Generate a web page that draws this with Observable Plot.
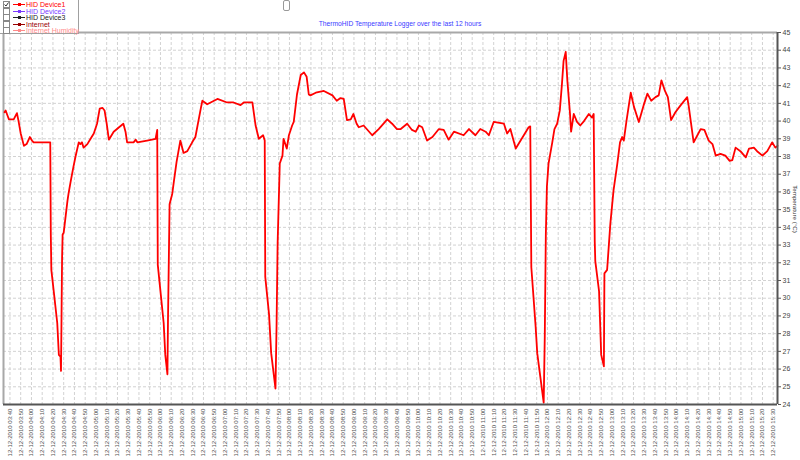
<!DOCTYPE html>
<html>
<head>
<meta charset="utf-8">
<script src="https://cdn.jsdelivr.net/npm/d3@7"></script>
<script src="https://cdn.jsdelivr.net/npm/@observablehq/plot@0.6"></script>
<style>
  html, body { margin: 0; padding: 0; background: #fff; }
  #wrap { position: relative; width: 800px; height: 460px; font-family: "Liberation Sans", Arial, sans-serif; }
  #title { position: absolute; left: 0; width: 800px; top: 20px; text-align: center; font-size: 6.7px; color: #3a3aff; }
  #legend { position: absolute; left: 0; top: 0; width: 78px; height: 33px; border: 1px solid #a0a0a0; border-top: none; border-left: none; background: #fff; font-size: 7px; }
  .row { position: absolute; left: 0; height: 7px; line-height: 7px; white-space: nowrap; }
  .cb { position: absolute; left: 3px; top: 0; width: 5px; height: 5px; border: 1px solid #888; background: #fff; }
  .ln { position: absolute; left: 13px; top: 3px; width: 12px; height: 1px; }
  .dt { position: absolute; left: 18px; top: 2px; width: 3px; height: 3px; }
  .lb { position: absolute; left: 26px; top: 0; }
  #handle { position: absolute; left: 283px; top: 0px; width: 5px; height: 9px; border: 1px solid #999; border-radius: 2px; background: #fff; }
  #ylabel { position: absolute; font-size: 6.2px; line-height: 8px; height: 8px; color: #333; transform: rotate(90deg); transform-origin: center; text-align: center; white-space: nowrap; }
  svg { position: absolute; left: 0; top: 0; }
</style>
</head>
<body>
<div id="wrap"></div>
<script>
// ---- data (times on 12-12-2010, temperature of HID Device1 in °C) ----
const times = [
  "03:35:00","03:36:00","03:39:00","03:43:30","03:46:30","03:48:00","03:50:00","03:53:00","03:55:30","03:58:30",
  "04:00:30","04:02:00","04:17:30","04:18:00","04:18:30","04:21:00","04:24:00","04:25:30","04:27:00","04:27:30",
  "04:28:00","04:28:30","04:29:00","04:30:00","04:33:30","04:34:30","04:36:30","04:39:00","04:41:00","04:44:00",
  "04:45:30","04:47:00","04:48:30","04:52:00","04:55:00","04:58:00","05:01:00","05:03:30","05:06:00","05:08:00",
  "05:10:00","05:12:00","05:16:30","05:21:30","05:25:30","05:27:30","05:29:00","05:35:00","05:37:00","05:38:30",
  "05:47:30","05:55:30","05:57:00","05:57:30","06:00:00","06:03:00","06:04:30","06:06:30","06:07:00","06:08:00",
  "06:08:30","06:11:00","06:12:30","06:15:00","06:18:30","06:21:30","06:25:00","06:29:30","06:32:30","06:37:30",
  "06:39:00","06:43:30","06:53:00","07:02:00","07:08:00","07:14:30","07:17:30","07:25:30","07:28:30","07:31:30",
  "07:35:30","07:37:00","07:37:30","07:41:00","07:43:00","07:47:00","07:48:00","07:49:00","07:51:00","07:53:30",
  "07:54:30","07:57:30","07:59:30","08:02:30","08:04:00","08:07:00","08:10:30","08:13:30","08:16:00","08:18:00",
  "08:19:30","08:24:30","08:32:00","08:40:00","08:44:00","08:47:30","08:50:30","08:53:30","08:57:00","08:59:30",
  "09:02:30","09:04:30","09:09:00","09:17:00","09:23:00","09:31:00","09:35:30","09:40:00","09:43:30","09:49:30",
  "09:54:00","09:57:30","10:00:30","10:03:30","10:08:00","10:13:00","10:19:00","10:23:30","10:28:00","10:33:00",
  "10:42:00","10:47:00","10:53:00","10:57:30","11:02:30","11:05:30","11:10:00","11:19:30","11:22:30","11:25:30",
  "11:30:30","11:38:00","11:42:30","11:44:00","11:45:00","11:49:00","11:50:30","11:56:30","11:57:30","11:58:30",
  "11:59:30","12:01:00","12:04:30","12:06:30","12:09:00","12:11:30","12:13:30","12:15:00","12:17:00","12:18:30",
  "12:21:00","12:22:00","12:24:30","12:27:30","12:30:30","12:34:00","12:38:30","12:41:30","12:43:00","12:44:00",
  "12:44:30","12:48:00","12:50:00","12:52:30","12:53:00","12:55:30","12:58:30","13:01:30","13:05:00","13:07:30",
  "13:09:30","13:11:00","13:13:30","13:17:30","13:20:30","13:25:00","13:29:30","13:33:00","13:36:30","13:40:30",
  "13:43:30","13:46:00","13:49:00","13:52:00","13:55:00","13:59:00","14:04:00","14:10:00","14:11:30","14:16:00",
  "14:19:30","14:22:30","14:26:00","14:30:00","14:33:30","14:36:30","14:41:00","14:45:30","14:49:30","14:52:00",
  "14:55:00","14:59:30","15:04:30","15:07:30","15:12:00","15:15:00","15:20:00","15:24:30","15:29:00","15:32:00",
  "15:34:00"
];
const temps = [
  40.5,40.6,40.1,40.1,40.45,40.0,39.3,38.6,38.7,39.1,
  38.9,38.8,38.8,33.6,31.6,30.25,28.6,26.8,26.7,25.9,
  29.1,32.3,33.6,33.7,35.5,35.9,36.6,37.4,38.0,38.8,
  38.7,38.8,38.5,38.7,39.0,39.3,39.85,40.7,40.75,40.6,
  39.85,38.95,39.4,39.65,39.85,39.4,38.8,38.8,38.95,38.8,
  38.9,39.0,39.5,31.9,30.4,28.6,26.8,25.7,28.7,33.1,
  35.3,35.9,36.6,37.7,38.9,38.2,38.3,38.8,39.1,40.7,
  41.15,40.95,41.25,41.05,41.05,40.9,41.05,41.05,39.75,39.0,
  39.2,38.9,31.2,29.1,26.9,24.9,28.4,33.1,37.6,38.05,
  39.0,38.45,39.2,39.75,39.95,41.5,42.6,42.75,42.5,41.5,
  41.45,41.6,41.7,41.45,41.15,41.3,41.25,40.05,40.1,40.4,
  39.85,39.65,39.75,39.2,39.55,40.1,39.85,39.55,39.55,39.85,
  39.5,39.4,39.75,39.65,38.9,39.1,39.55,39.5,38.95,39.4,
  39.2,39.55,39.2,39.55,39.4,39.2,39.95,39.85,39.3,39.55,
  38.45,39.2,39.65,39.7,31.75,28.4,26.9,24.1,27.8,33.6,
  36.3,37.6,38.8,39.55,39.85,40.6,42.1,43.4,43.9,42.3,
  40.4,39.4,40.4,39.95,39.75,40.0,40.4,40.2,40.4,33.2,
  32.1,30.4,26.8,26.15,31.4,31.6,34.2,36.1,37.6,38.8,
  39.1,38.9,40.0,41.6,40.8,39.95,40.9,41.55,41.15,41.35,
  41.45,42.3,41.75,41.35,40.05,40.5,40.9,41.35,40.8,38.8,
  39.2,39.55,39.5,38.9,38.7,38.05,38.15,38.05,37.75,37.8,
  38.5,38.3,37.95,38.45,38.5,38.3,38.05,38.3,38.8,38.5,
  38.6
];
const day = "2010-12-12";
const xStart = "03:34:00";
const xEnd = "15:34:00";
const yTicks = [24,25,26,27,28,29,30,31,32,33,34,35,36,37,38,39,40,41,42,43,44,45];
const legendItems = ["HID Device1","HID Device2","HID Device3","Internet","Internet Humidity"];
const legendColors = ["#ff0000","#7b3bff","#222222","#990000","#ff8a8a"];
const titleText = "ThermoHID Temperature Logger over the last 12 hours";
const yLabel = "Temperature (°C)";

// ---- pick a font for the long rotated x labels so they fit (~48px long) ----
const ctx = document.createElement("canvas").getContext("2d");
function textW(font) { ctx.font = font; return ctx.measureText("12-12-2010 03:40").width; }
let xFamily = "'Liberation Sans', Arial, sans-serif";
const narrowOK = textW("20px 'Liberation Sans Narrow', monospace") !== textW("20px monospace");
if (narrowOK) xFamily = "'Liberation Sans Narrow', 'Liberation Sans', sans-serif";
const xFontSize = Math.min(7.5, 48 * 20 / textW("20px " + xFamily));

// ---- build ----
const parse = d3.utcParse("%Y-%m-%d %H:%M:%S");
const data = times.map((t, i) => ({date: parse(day + " " + t), temp: temps[i]}));
const x0 = parse(day + " " + xStart), x1 = parse(day + " " + xEnd);
const xTicks = d3.utcMinute.every(10).range(parse(day + " 03:40:00"), x1);
const fmt = d3.utcFormat("%d-%m-%Y %H:%M");

const chart = Plot.plot({
  width: 800,
  height: 460,
  marginLeft: 3,
  marginRight: 23,
  marginTop: 32,
  marginBottom: 56,
  style: {fontFamily: "'Liberation Sans', Arial, sans-serif", fontSize: "7px", color: "#333", background: "transparent"},
  x: {type: "utc", domain: [x0, x1]},
  y: {domain: [24, 45]},
  marks: [
    Plot.gridX(xTicks, {stroke: "#d2d2d2", strokeOpacity: 1, strokeDasharray: "3,2"}),
    Plot.gridY(yTicks, {stroke: "#d2d2d2", strokeOpacity: 1, strokeDasharray: "3,2"}),
    Plot.ruleY([45], {stroke: "#a8a8a8", strokeWidth: 2}),
    Plot.ruleX([x0], {stroke: "#a8a8a8", strokeWidth: 2}),
    Plot.axisX(xTicks, {anchor: "bottom", tickSize: 0, tickPadding: 4, tickRotate: -90, tickFormat: fmt, label: null, fill: "#555", fontFamily: xFamily, fontSize: xFontSize}),
    Plot.axisY(yTicks, {anchor: "right", tickSize: 3, tickPadding: 2, label: null, fill: "#444", stroke: "#555"}),
    Plot.line(data, {x: "date", y: "temp", stroke: "#ff0000", strokeWidth: 1.8, curve: "linear"}),
    Plot.ruleY([24], {stroke: "#555", strokeWidth: 2}),
    Plot.ruleX([x1], {stroke: "#555", strokeWidth: 2})
  ]
});

const wrap = document.getElementById("wrap");
wrap.appendChild(chart);

const title = document.createElement("div");
title.id = "title"; title.textContent = titleText; wrap.appendChild(title);

const handle = document.createElement("div");
handle.id = "handle"; wrap.appendChild(handle);

const yl = document.createElement("div");
yl.id = "ylabel"; yl.textContent = yLabel;
yl.style.width = "60px"; yl.style.left = "765px"; yl.style.top = "205px";
wrap.appendChild(yl);

const legend = document.createElement("div");
legend.id = "legend";
legendItems.forEach((name, i) => {
  const row = document.createElement("div");
  row.className = "row";
  row.style.top = (1 + i * 6.6) + "px";
  row.innerHTML = `<div class="cb"></div>` +
    `<div class="ln" style="background:${legendColors[i]}"></div>` +
    `<div class="dt" style="background:${legendColors[i]}"></div>` +
    `<div class="lb" style="color:${legendColors[i]}">${name}</div>`;
  if (i === 0) {
    row.querySelector(".cb").innerHTML = '<svg width="5" height="5" style="position:absolute;left:0;top:0"><path d="M0.5,2.5 L2,4 L4.5,0.5" fill="none" stroke="#333" stroke-width="1"/></svg>';
  }
  legend.appendChild(row);
});
wrap.appendChild(legend);
</script>
</body>
</html>
